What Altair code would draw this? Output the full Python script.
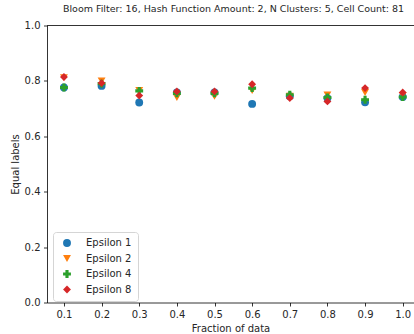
import altair as alt
import pandas as pd

fractions = [0.1, 0.2, 0.3, 0.4, 0.5, 0.6, 0.7, 0.8, 0.9, 1.0]
eps1 = [0.776, 0.782, 0.722, 0.758, 0.758, 0.717, 0.745, 0.738, 0.723, 0.742]
eps2 = [0.812, 0.800, 0.766, 0.740, 0.744, 0.765, 0.745, 0.749, 0.758, 0.748]
eps4 = [0.776, 0.790, 0.764, 0.755, 0.755, 0.774, 0.750, 0.740, 0.732, 0.742]
eps8 = [0.814, 0.792, 0.747, 0.762, 0.762, 0.788, 0.738, 0.726, 0.774, 0.758]
series_names = ["Epsilon 1", "Epsilon 2", "Epsilon 4", "Epsilon 8"]
colors = ["#1f77b4", "#ff7f0e", "#2ca02c", "#d62728"]
shapes = ["circle", "triangle-down", "cross", "diamond"]
marker_sizes = [62, 62, 64, 92]
x_ticks = fractions
y_ticks = [0.0, 0.2, 0.4, 0.6, 0.8, 1.0]
title_text = "Bloom Filter: 16, Hash Function Amount: 2, N Clusters: 5, Cell Count: 81"

rows = []
for name, vals in zip(series_names, [eps1, eps2, eps4, eps8]):
    for f, v in zip(fractions, vals):
        rows.append({"fraction": f, "value": v, "series": name})
df = pd.DataFrame(rows)

FONT = "DejaVu Sans"
xscale = alt.Scale(domain=[0.055, 1.030], nice=False, zero=False)
yscale = alt.Scale(domain=[0.0, 1.0], nice=False)

points = alt.Chart(df).mark_point(filled=True, opacity=1).encode(
    x=alt.X("fraction:Q", scale=xscale,
            axis=alt.Axis(values=x_ticks, format=".1f", title="Fraction of data")),
    y=alt.Y("value:Q", scale=yscale,
            axis=alt.Axis(values=y_ticks, format=".1f", title="Equal labels")),
    color=alt.Color("series:N", scale=alt.Scale(domain=series_names, range=colors),
                    legend=alt.Legend(title=None, orient="none", legendX=6, legendY=206.5,
                                      labelFontSize=10, labelFont=FONT,
                                      labelColor="#262626",
                                      strokeColor="#d5d5d5", fillColor="white",
                                      cornerRadius=3, padding=6, rowPadding=5.5,
                                      symbolOffset=3, labelOffset=14)),
    shape=alt.Shape("series:N", scale=alt.Scale(domain=series_names, range=shapes)),
    size=alt.Size("series:N", scale=alt.Scale(domain=series_names, range=marker_sizes)),
)

top_df = pd.DataFrame({"v": [1.0]})
top_spine = alt.Chart(top_df).mark_rule(color="black", strokeWidth=0.8).encode(
    y=alt.value(0)
)

chart = alt.layer(points, top_spine).properties(
    width=367, height=277,
    title=alt.TitleParams(title_text, fontSize=9.5, font=FONT, fontWeight="normal",
                          color="#262626", offset=7, dx=3),
    autosize=alt.AutoSizeParams(type="none"),
    padding={"left": 47, "top": 25.5, "right": 0, "bottom": 31.5},
).configure(background="white").configure_view(stroke=None).configure_axis(
    grid=False, domainColor="black", domainWidth=0.8, tickColor="black",
    tickWidth=0.8, tickSize=3.5, labelFont=FONT, labelFontSize=10,
    labelColor="#262626", titleFont=FONT, titleFontSize=10, titleFontWeight="normal",
    titleColor="#262626", labelPadding=3.5, titlePadding=4
)

chart.save("out.html", embed_options={"renderer": "svg", "actions": False})
